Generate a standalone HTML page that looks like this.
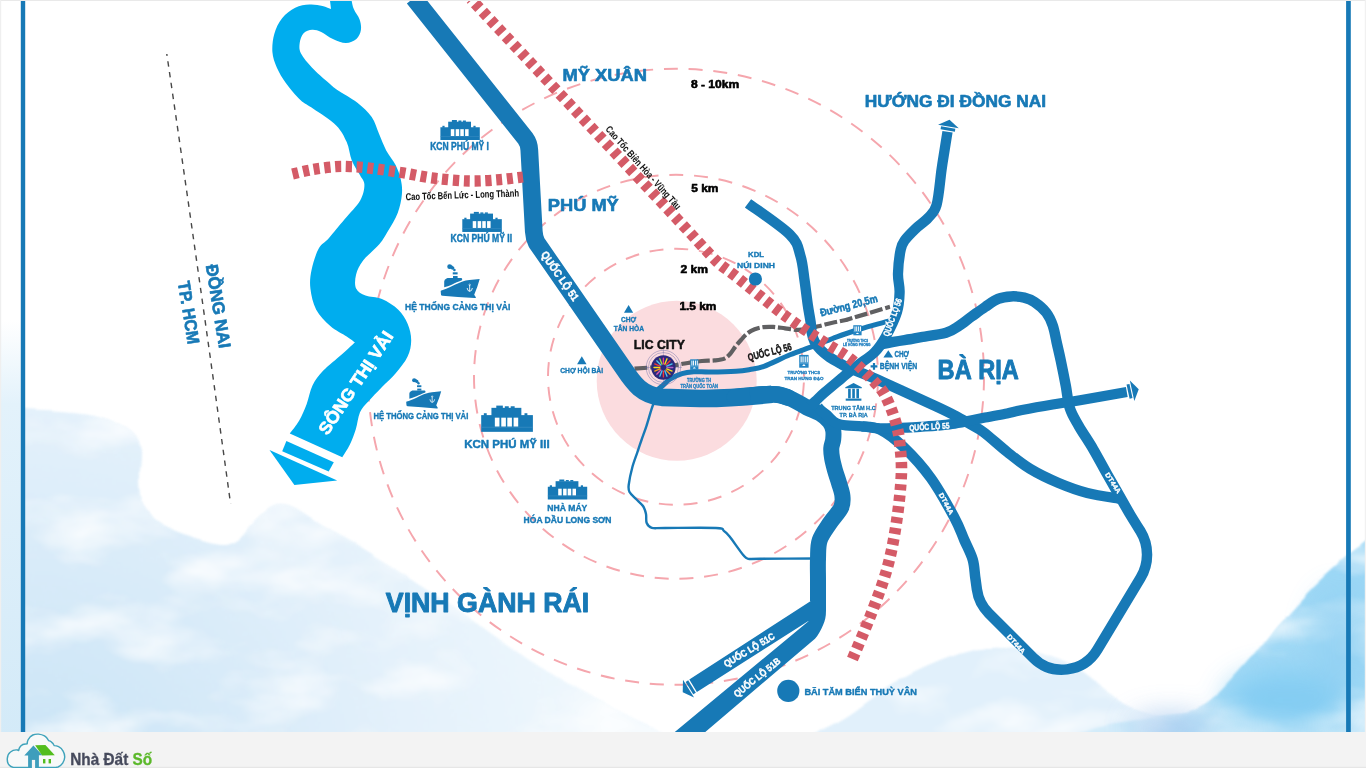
<!DOCTYPE html>
<html lang="vi">
<head>
<meta charset="utf-8">
<title>Bản đồ vị trí LIC City</title>
<style>
html,body{margin:0;padding:0;background:#fff;}
body{width:1366px;height:768px;overflow:hidden;font-family:'Liberation Sans',Arial,sans-serif;}
svg{display:block;will-change:transform;}
</style>
</head>
<body>
<svg width="1366" height="768" viewBox="0 0 1366 768">
<defs>
<filter id="b6" x="-20%" y="-20%" width="140%" height="140%"><feGaussianBlur stdDeviation="6"/></filter>
<filter id="b14" x="-30%" y="-30%" width="160%" height="160%"><feGaussianBlur stdDeviation="14"/></filter>
<filter id="b3" x="-20%" y="-20%" width="140%" height="140%"><feGaussianBlur stdDeviation="2.5"/></filter>
<filter id="wc" x="0" y="0" width="100%" height="100%" filterUnits="objectBoundingBox" color-interpolation-filters="sRGB"><feTurbulence type="fractalNoise" baseFrequency="0.009 0.02" numOctaves="4" seed="7" result="n"/><feDisplacementMap in="SourceGraphic" in2="n" scale="8" xChannelSelector="R" yChannelSelector="G" result="d"/><feGaussianBlur in="d" stdDeviation="1.2" result="db"/><feColorMatrix in="n" type="matrix" values="0 0 0 0 1  0 0 0 0 1  0 0 0 0 1  0 0 2.0 0 -0.9" result="w"/><feGaussianBlur in="w" stdDeviation="1.5" result="wb"/><feComposite in="wb" in2="db" operator="in" result="wm"/><feMerge><feMergeNode in="db"/><feMergeNode in="wm"/></feMerge></filter>
<linearGradient id="fadeL" x1="0" y1="0" x2="0" y2="1"><stop offset="0" stop-color="#fff" stop-opacity="0"/><stop offset="1" stop-color="#fff" stop-opacity="1"/></linearGradient>
<radialGradient id="gl" gradientUnits="userSpaceOnUse" cx="30" cy="790" r="560"><stop offset="0" stop-color="#c9e4f6"/><stop offset="0.4" stop-color="#d8ebf9"/><stop offset="0.68" stop-color="#e4f1fb"/><stop offset="1" stop-color="#eef7fd"/></radialGradient>
<linearGradient id="gr" gradientUnits="userSpaceOnUse" x1="1080" y1="740" x2="1366" y2="560"><stop offset="0" stop-color="#cde9fa"/><stop offset="0.4" stop-color="#a6dbf6"/><stop offset="1" stop-color="#9ad6f5"/></linearGradient>
<linearGradient id="gstrip" gradientUnits="userSpaceOnUse" x1="0" y1="320" x2="0" y2="740"><stop offset="0" stop-color="#e3f2fb" stop-opacity="0"/><stop offset="0.2" stop-color="#e3f2fb" stop-opacity="1"/><stop offset="1" stop-color="#d3eaf8" stop-opacity="1"/></linearGradient>
<clipPath id="mapclip"><rect x="0" y="0" width="1366" height="732"/></clipPath>
</defs>
<rect x="0" y="0" width="1366" height="768" fill="#ffffff"/>
<g clip-path="url(#mapclip)">
<g filter="url(#wc)">
<path d="M-30.0,404.0 C-25.0,404.3 -9.3,405.3 0.0,406.0 C9.3,406.7 16.0,407.3 26.0,408.0 C36.0,408.7 48.5,409.0 60.0,410.0 C71.5,411.0 85.0,411.7 95.0,414.0 C105.0,416.3 113.2,420.3 120.0,424.0 C126.8,427.7 132.5,431.3 136.0,436.0 C139.5,440.7 140.3,445.5 141.0,452.0 C141.7,458.5 139.8,467.0 140.0,475.0 C140.2,483.0 140.3,493.0 142.0,500.0 C143.7,507.0 146.2,512.3 150.0,517.0 C153.8,521.7 157.5,524.3 165.0,528.0 C172.5,531.7 185.5,536.2 195.0,539.0 C204.5,541.8 214.8,544.8 222.0,545.0 C229.2,545.2 233.3,543.0 238.0,540.0 C242.7,537.0 246.0,531.2 250.0,527.0 C254.0,522.8 257.7,518.7 262.0,515.0 C266.3,511.3 270.5,506.3 276.0,505.0 C281.5,503.7 286.5,503.3 295.0,507.0 C303.5,510.7 314.7,519.5 327.0,527.0 C339.3,534.5 353.2,542.2 369.0,552.0 C384.8,561.8 404.1,573.9 421.7,585.6 C439.3,597.4 456.8,610.2 474.4,622.5 C491.9,634.8 509.4,648.0 527.0,659.4 C544.6,670.8 562.4,681.3 580.0,691.0 C597.6,700.7 619.4,710.8 632.6,717.4 C645.8,724.0 647.8,723.4 659.0,730.5 C670.2,737.6 693.2,755.1 700.0,760.0 L700,780 L-30,780 Z" fill="url(#gl)"/>
</g>
<rect x="0" y="320" width="21" height="420" fill="url(#gstrip)"/>
<g filter="url(#wc)">
<path d="M790.0,752.0 C794.6,748.7 807.9,738.2 817.7,732.0 C827.5,725.8 836.2,723.0 848.7,715.0 C861.2,707.0 878.2,692.8 893.0,684.0 C907.8,675.2 922.7,667.9 937.5,662.0 C952.3,656.1 967.0,650.5 981.8,648.7 C996.5,646.9 1011.2,648.0 1026.0,651.0 C1040.8,654.0 1055.8,658.6 1070.6,666.4 C1085.4,674.1 1100.3,689.4 1115.0,697.5 C1129.7,705.6 1144.2,713.6 1159.0,715.0 C1173.8,716.4 1188.8,714.8 1203.6,706.0 C1218.4,697.2 1233.3,678.2 1248.0,662.0 C1262.7,645.8 1277.2,625.0 1292.0,608.7 C1306.8,592.4 1318.7,579.6 1336.7,564.0 C1354.7,548.4 1389.5,523.2 1400.0,515.0 L1400,780 L790,780 Z" fill="#e1f0fb"/>
<path d="M1030.0,760.0 C1040.0,754.7 1068.5,735.3 1090.0,728.0 C1111.5,720.7 1140.1,719.7 1159.0,716.0 C1177.9,712.3 1188.8,715.0 1203.6,706.0 C1218.4,697.0 1233.3,678.2 1248.0,662.0 C1262.7,645.8 1277.2,625.0 1292.0,608.7 C1306.8,592.4 1318.7,579.6 1336.7,564.0 C1354.7,548.4 1389.5,523.2 1400.0,515.0 L1400,780 L1030,780 Z" fill="url(#gr)"/>
</g>
<g filter="url(#b14)" opacity="0.85">
<ellipse cx="1285" cy="700" rx="60" ry="30" fill="#7fcbf2"/>
<ellipse cx="1340" cy="640" rx="28" ry="50" fill="#93d1f3"/><ellipse cx="1170" cy="728" rx="40" ry="14" fill="#a9c9ee"/>
</g>
</g>
<circle cx="676.7" cy="380.8" r="80" fill="#fbdcdf"/>
<circle cx="676.0" cy="376.8" r="128" fill="none" stroke="#f5a6ad" stroke-width="1.95" stroke-dasharray="14 10.81" stroke-dashoffset="19.1"/>
<circle cx="676.0" cy="376.8" r="202" fill="none" stroke="#f5a6ad" stroke-width="1.95" stroke-dasharray="14 10.81" stroke-dashoffset="22.8"/>
<circle cx="676.0" cy="376.8" r="308" fill="none" stroke="#f5a6ad" stroke-width="1.95" stroke-dasharray="14 10.81" stroke-dashoffset="0.3"/>
<path d="M329.7,-2 L331,9.1 C329.6,8.6 326.1,6.7 322.5,5.9 C318.9,5.2 314.1,4.3 309.5,4.6 C304.9,4.9 299.8,5.5 295.2,7.8 C290.6,10.1 285.6,13.8 282.1,18.2 C278.6,22.5 275.9,28.3 274.3,33.9 C272.7,39.5 272.0,46.4 272.4,52.0 C272.8,57.6 274.6,62.5 276.9,67.7 C279.2,72.9 282.1,77.9 286.0,83.3 C289.9,88.7 295.8,95.8 300.4,100.0 C304.9,104.2 307.3,104.5 313.3,108.8 C319.3,113.0 330.7,119.8 336.2,125.4 C341.8,131.0 344.1,136.2 346.7,142.1 C349.3,148.0 349.6,155.2 351.9,160.8 C354.1,166.4 358.1,171.4 360.2,175.4 C362.3,179.4 364.4,180.6 364.4,184.8 C364.4,189.0 363.5,194.7 360.2,200.4 C356.9,206.1 349.8,212.9 344.6,219.2 C339.4,225.4 333.3,233.0 329.0,237.9 C324.7,242.8 321.5,243.4 318.6,248.8 C315.7,254.1 313.0,263.2 311.6,269.8 C310.2,276.4 309.6,282.0 310.4,288.6 C311.2,295.2 312.9,303.4 316.2,309.7 C319.6,315.9 325.2,321.6 330.3,326.1 C335.4,330.6 342.6,333.9 346.7,336.6 C350.8,339.3 353.5,341.5 354.9,342.5 C352.8,344.4 347.3,349.5 342.0,354.2 C336.7,358.9 328.2,365.4 323.3,370.6 C318.4,375.8 315.4,379.6 312.6,385.2 C309.8,390.8 308.9,398.0 306.7,403.9 C304.4,409.8 301.9,415.9 299.1,420.8 C296.3,425.7 291.4,431.4 289.8,433.5 L342.3,457.2 C343.6,455.1 347.6,449.1 349.9,444.5 C352.1,439.9 354.1,434.7 355.8,429.3 C357.5,423.9 357.9,417.0 360.0,412.3 C362.1,407.6 364.8,405.5 368.5,401.3 C372.2,397.1 377.4,391.7 382.0,387.0 C386.6,382.3 391.6,378.1 395.9,373.0 C400.2,367.9 405.1,362.1 407.6,356.6 C410.2,351.1 411.2,345.7 411.2,340.2 C411.2,334.7 409.8,328.8 407.6,323.8 C405.5,318.7 402.6,313.8 398.3,309.7 C394.0,305.6 387.4,301.5 381.9,299.1 C376.4,296.8 369.8,297.4 365.5,295.6 C361.2,293.9 357.7,292.1 356.1,288.6 C354.5,285.1 354.9,279.2 356.1,274.5 C357.3,269.8 359.2,265.6 363.1,260.5 C367.0,255.4 375.4,248.9 379.5,244.0 C383.6,239.1 385.0,236.2 388.0,231.0 C391.0,225.8 395.4,219.0 397.7,212.9 C400.0,206.8 401.4,199.8 401.9,194.2 C402.4,188.6 401.9,184.5 400.8,179.6 C399.8,174.7 398.0,169.9 395.6,165.0 C393.2,160.1 389.0,155.6 386.2,150.4 C383.5,145.2 381.4,139.3 379.0,133.8 C376.6,128.2 375.3,122.3 371.7,117.1 C368.1,111.9 362.8,107.0 357.1,102.5 C351.4,98.0 342.2,93.4 337.3,90.0 C332.4,86.6 331.9,85.7 327.7,82.0 C323.5,78.3 316.6,72.5 312.1,67.7 C307.7,62.9 303.1,57.5 301.0,53.4 C298.9,49.3 299.3,46.4 299.7,43.0 C300.1,39.6 301.5,35.4 303.6,33.2 C305.7,31.0 309.2,29.9 312.1,29.7 C315.0,29.5 317.7,30.3 321.2,31.9 C324.7,33.4 328.8,37.1 332.9,39.0 C337.0,40.9 342.0,43.0 345.9,43.0 C349.8,43.0 353.9,41.2 356.4,39.0 C358.9,36.8 360.4,33.2 360.9,30.0 C361.4,26.8 360.8,23.0 359.6,19.5 C358.4,16.0 355.2,12.7 353.8,9.1 C352.3,5.5 351.5,-0.2 351.1,-2.0 Z" fill="#00adee"/>
<polygon points="286.4,441.1 333.8,462.3 328.7,471.6 282.2,451.3" fill="#00adee"/>
<polygon points="269.5,449.9 337.2,480.4 294.4,485.1" fill="#00adee"/>
<path d="M656.5,402.0 C655.9,402.5 654.7,401.0 653.0,405.0 C651.3,409.0 648.4,420.0 646.5,425.8 C644.6,431.6 643.0,435.6 641.5,440.0 C640.0,444.4 639.0,447.4 637.5,451.9 C636.0,456.4 633.9,461.5 632.4,467.0 C630.9,472.5 629.2,480.8 628.7,485.0 C628.2,489.2 628.3,489.7 629.5,492.0 C630.7,494.3 633.8,496.7 636.0,499.0 C638.2,501.3 641.3,503.5 643.0,506.0 C644.7,508.5 645.4,511.2 646.0,514.0 C646.6,516.8 645.7,520.7 646.7,523.0 C647.7,525.3 648.7,527.0 651.8,527.8 C654.8,528.6 654.3,528.0 665.0,528.0 C675.7,528.0 706.2,527.5 716.0,528.0 C725.8,528.5 721.7,529.6 724.0,531.0 C726.3,532.4 726.4,532.5 729.6,536.5 C732.8,540.5 740.1,551.3 743.2,555.0 C746.3,558.7 745.5,558.2 748.3,558.8 C751.1,559.4 748.9,558.8 760.0,558.8 C771.1,558.8 805.8,558.5 815.0,558.5" fill="none" stroke="#1779b6" stroke-width="2.4" stroke-linejoin="round"/>
<path d="M655.0,392.0 C656.3,390.9 660.2,387.7 662.8,385.5 C665.3,383.3 667.1,381.0 670.3,379.0 C673.5,377.0 678.1,374.8 682.0,373.6 C685.9,372.4 689.1,372.1 693.8,371.8 C698.4,371.5 703.0,372.1 710.0,372.0 C717.0,371.9 729.3,371.6 736.0,371.2 C742.7,370.8 745.3,370.3 750.0,369.5 C754.7,368.7 757.3,368.8 764.0,366.3 C770.7,363.9 781.8,358.1 790.0,354.8 C798.2,351.5 805.6,349.2 813.4,346.2 C821.2,343.3 829.1,339.8 836.9,336.9 C844.7,334.0 852.8,331.4 860.3,329.0 C867.8,326.6 877.2,324.2 882.2,322.8 C887.2,321.4 888.7,321.1 890.0,320.8" fill="none" stroke="#1779b6" stroke-width="5" stroke-linecap="round"/>
<path d="M634.5,368.7 C639.2,368.3 656.1,367.1 663.0,366.5 C669.9,365.9 671.5,365.6 676.0,365.0 C680.5,364.4 685.7,363.3 690.0,362.6 C694.3,361.9 697.9,361.4 702.0,361.0 C706.1,360.6 710.9,360.8 714.6,360.4 C718.3,360.0 721.8,359.7 724.4,358.6 C727.0,357.5 728.5,355.6 730.3,353.7 C732.1,351.8 733.4,349.2 735.2,346.9 C737.0,344.6 739.0,342.2 741.0,340.0 C743.0,337.8 744.6,335.5 746.9,333.7 C749.2,331.9 751.9,330.4 754.7,329.3 C757.5,328.2 760.4,327.5 763.5,327.1 C766.6,326.7 769.6,326.7 773.2,326.9 C776.8,327.1 780.9,327.8 785.0,328.3 C789.1,328.8 793.9,329.8 797.7,329.8 C801.5,329.9 804.5,329.2 808.0,328.6 C811.5,328.0 814.3,327.2 818.4,326.2 C822.5,325.3 827.9,323.7 832.5,322.7 C837.1,321.7 842.5,320.8 845.8,320.0 C849.1,319.2 845.1,320.2 852.5,318.0 C859.9,315.8 883.8,308.7 890.0,306.8" fill="none" stroke="#606062" stroke-width="4.2" stroke-dasharray="12.9 2.8"/>
<path d="M413.8,-2 L525.3,138.3 Q529,143.3 529.3,150 L533.8,231.5 Q534.1,237.5 536.6,242.6 L624,369 C634,384 642,395 662,397.3 L700,398.5 C722,398.8 745,397 772,394.2" fill="none" stroke="#1779b6" stroke-width="17.7" stroke-linejoin="round"/>
<path d="M735.0,397.4 C737.5,397.2 745.0,396.5 750.0,396.0 C755.0,395.5 760.3,394.8 765.0,394.6 C769.7,394.4 774.2,394.1 778.0,394.6 C781.8,395.1 786.3,397.0 788.0,397.5" fill="none" stroke="#1779b6" stroke-width="16.9" stroke-linecap="round" stroke-linejoin="round" />
<path d="M750.0,395.6 C751.7,395.4 755.7,394.7 760.0,394.5 C764.3,394.3 770.4,393.5 775.6,394.2 C780.8,394.9 786.0,396.7 791.2,398.9 C796.5,401.1 802.1,405.1 806.9,407.5 C811.7,409.9 816.4,411.2 820.2,413.6 C824.0,416.0 827.3,418.8 829.5,421.6 C831.7,424.4 832.6,427.2 833.2,430.2 C833.8,433.2 833.5,436.5 833.2,439.5 C832.9,442.5 831.5,445.0 831.3,448.1 C831.1,451.2 831.5,454.7 832.1,458.3 C832.7,461.9 833.8,465.9 834.9,470.0 C836.0,474.1 837.8,478.7 839.0,483.0 C840.2,487.3 842.0,491.7 842.4,495.8 C842.8,499.9 843.2,503.0 841.2,507.5 C839.2,512.0 833.8,517.2 830.2,522.7 C826.6,528.2 821.7,534.2 819.7,540.3 C817.7,546.3 818.3,552.4 818.0,559.0 C817.7,565.6 818.0,573.0 818.0,580.0 C818.0,587.0 818.0,597.5 818.0,601.0" fill="none" stroke="#1779b6" stroke-width="16.0" stroke-linecap="butt" stroke-linejoin="round" />
<path d="M810.2,596 L826,596 L826,610.6 C826,617 825,621 823.2,624.7 C821,630 818,635.5 815,638.7 L686.5,748 L655.5,748 L808.2,621.4 Q809.2,620.4 808,621.2 L696.9,691.9 L689.3,679.6 L810.4,601.2 Z" fill="#1779b6"/>
<path d="M748.0,203.3 C755.0,208.5 781.3,226.0 790.0,234.7 C798.7,243.4 798.0,248.1 800.4,255.7 C802.8,263.2 803.3,271.8 804.5,280.0 C805.7,288.2 806.8,298.0 807.8,305.0 C808.8,312.0 810.0,317.5 810.6,322.0 C811.2,326.5 811.0,328.8 811.6,332.0 C812.2,335.2 813.0,338.6 814.5,341.5 C816.0,344.4 817.9,347.1 820.4,349.7 C822.9,352.3 826.3,355.0 829.4,357.1 C832.5,359.2 835.9,361.0 838.8,362.6 C841.6,364.2 841.7,364.7 846.6,366.9 C851.5,369.1 861.8,373.0 868.0,375.6 C874.2,378.2 876.2,379.0 883.8,382.4 C891.3,385.8 904.5,391.9 913.4,396.0 C922.3,400.1 930.0,403.5 936.9,406.7 C943.8,409.9 949.0,412.4 954.5,415.3 C960.0,418.2 965.1,421.2 970.0,424.0 C974.9,426.8 977.5,427.6 983.8,432.3 C990.0,437.0 999.5,445.9 1007.2,452.0 C1014.9,458.1 1021.4,463.6 1030.0,468.8 C1038.6,474.0 1049.0,479.0 1058.6,483.0 C1068.1,487.0 1076.9,490.3 1087.3,493.0 C1097.7,495.7 1115.4,498.0 1121.0,499.0" fill="none" stroke="#1779b6" stroke-width="10.4" stroke-linecap="butt" stroke-linejoin="round" />
<path d="M947.5,131.8 C947.0,134.8 945.6,143.6 944.6,150.0 C943.6,156.4 942.8,160.9 941.5,170.0 C940.2,179.1 938.9,196.8 936.6,204.8 C934.4,212.8 931.5,214.0 928.0,218.0 C924.5,222.0 919.4,225.0 915.6,228.7 C911.8,232.4 907.5,236.5 905.0,240.0 C902.5,243.5 901.9,244.1 900.7,249.7 C899.5,255.3 898.2,266.6 898.0,273.7 C897.8,280.8 899.8,285.6 899.6,292.0 C899.4,298.4 899.3,304.5 897.0,312.0 C894.7,319.5 889.4,330.1 885.6,336.9 C881.8,343.6 878.9,347.9 874.4,352.5 C869.9,357.1 863.1,361.1 858.8,364.5 C854.4,367.9 851.2,370.3 848.3,372.6 C845.4,374.9 845.5,374.9 841.6,378.2 C837.7,381.5 829.4,388.4 825.0,392.2 C820.6,396.0 818.0,398.7 815.5,401.0 C813.0,403.3 810.9,405.2 810.0,406.0" fill="none" stroke="#1779b6" stroke-width="10.3" stroke-linecap="butt" stroke-linejoin="round" />
<path d="M880.0,344.5 C882.5,344.0 890.0,342.5 895.0,341.6 C900.0,340.7 905.8,339.9 910.0,339.2 C914.2,338.5 914.0,338.4 920.0,337.3 C926.0,336.2 939.5,334.6 946.0,332.7 C952.5,330.8 954.7,328.6 959.0,325.8 C963.3,323.1 967.6,319.3 972.0,316.2 C976.4,313.1 980.8,309.9 985.1,307.0 C989.5,304.1 993.8,300.7 998.1,298.9 C1002.4,297.1 1006.8,296.6 1011.1,296.4 C1015.5,296.2 1020.3,296.7 1024.2,297.6 C1028.1,298.6 1030.9,299.6 1034.6,302.1 C1038.3,304.6 1043.3,308.7 1046.3,312.6 C1049.3,316.5 1051.1,320.6 1052.8,325.6 C1054.5,330.6 1055.4,336.6 1056.7,342.5 C1058.0,348.4 1059.3,353.5 1060.8,360.7 C1062.3,367.9 1064.3,377.8 1065.8,385.8 C1067.3,393.8 1067.8,402.0 1070.0,408.7 C1072.2,415.4 1074.9,419.1 1078.7,425.8 C1082.5,432.5 1088.2,440.6 1093.0,448.8 C1097.8,456.9 1103.0,466.9 1107.3,474.5 C1111.6,482.1 1114.9,487.9 1118.8,494.6 C1122.6,501.3 1126.6,508.6 1130.2,514.6 C1133.8,520.6 1138.6,528.2 1140.3,530.9 C1149.2,545.4 1149.3,563.5 1140.5,578 L1097.3,649.8 C1083.5,672.6 1052,676.5 1033.2,657.7 L988.7,613.2 Q978.8,603.3 976.9,589.4 C976.6,587.3 975.9,582.0 975.2,577.0 C974.5,572.0 974.5,565.7 972.7,559.5 C970.9,553.3 967.4,547.0 964.3,540.0 C961.2,533.0 959.8,527.5 954.2,517.2 C948.6,506.9 939.3,489.7 930.8,478.0 C922.3,466.3 911.9,455.0 903.4,446.9 C894.9,438.8 886.9,432.9 880.0,429.5 C873.1,426.1 865.0,426.9 862.0,426.4" fill="none" stroke="#1779b6" stroke-width="10.5" stroke-linejoin="round"/>
<path d="M818.0,407.0 C818.8,407.9 820.7,410.2 823.0,412.5 C825.3,414.8 829.0,418.4 832.0,420.5 C835.0,422.6 836.2,423.8 841.2,424.8 C846.2,425.8 855.5,425.8 862.0,426.4 C868.5,427.0 874.2,428.1 880.0,428.4 C885.8,428.6 890.3,428.2 897.0,427.9 C903.7,427.6 913.4,427.2 920.0,426.8 C926.6,426.4 931.6,426.2 936.9,425.7 C942.2,425.2 946.8,424.8 952.0,424.0 C957.2,423.2 962.5,422.1 968.0,421.0 C973.5,419.9 978.5,418.8 985.0,417.5 C991.5,416.2 1000.8,414.6 1007.0,413.4 C1013.2,412.1 1014.4,411.5 1022.0,410.0 C1029.6,408.5 1043.0,406.1 1052.7,404.5 C1062.4,402.9 1067.7,402.3 1080.0,400.2 C1092.3,398.1 1119.0,393.3 1126.8,391.9" fill="none" stroke="#1779b6" stroke-width="10.2" stroke-linecap="butt" stroke-linejoin="round" />
<g transform="translate(947.5,131.8) rotate(-80.5)" fill="#1779b6"><rect x="1.3" y="-7.25" width="3" height="14.50"/><polygon points="5.4,-10.5 12.2,0 5.4,10.5"/></g>
<g transform="translate(1126.8,391.9) rotate(-12.2)" fill="#1779b6"><rect x="1.3" y="-7.25" width="3" height="14.50"/><polygon points="5.4,-10.5 12.2,0 5.4,10.5"/></g>
<g transform="translate(693.1,685.8) rotate(148.2)" fill="#1779b6"><rect x="1.3" y="-7.25" width="3" height="14.50"/><polygon points="5.4,-10.5 12.2,0 5.4,10.5"/></g>
<path d="M470.9,-1 L690,232.8  C694.5,237.6 709.3,254.2 716.7,261.3 C724.1,268.4 724.9,267.6 734.6,275.4 C744.4,283.2 766.0,300.9 775.2,308.2 C784.4,315.5 785.5,315.9 790.0,319.2 C794.5,322.5 798.4,325.3 802.0,327.8 C805.6,330.3 808.2,331.9 811.4,334.0 C814.6,336.1 818.0,338.3 821.2,340.3 C824.4,342.3 827.3,344.2 830.5,346.2 C833.7,348.1 837.1,350.0 840.3,352.0 C843.5,354.0 846.8,356.1 849.7,358.3 C852.6,360.5 855.2,362.8 857.9,365.3 C860.6,367.8 862.9,370.2 865.7,373.1" fill="none" stroke="#d45b67" stroke-width="11.3" stroke-dasharray="6.35 4.9" stroke-dashoffset="5.11"/>
<path d="M865.7,373.1 C868.6,376.0 872.0,379.2 875.0,382.5 C878.0,385.8 881.0,388.4 883.8,393.0 C886.5,397.6 889.4,404.3 891.6,410.0 C893.8,415.7 895.6,421.4 897.0,427.0 C898.4,432.6 899.1,435.9 899.8,443.7 C900.5,451.5 901.9,460.9 901.4,473.8 C900.9,486.6 899.0,505.0 896.7,520.6 C894.4,536.2 891.7,551.9 887.4,567.5 C883.1,583.1 876.9,599.0 871.0,614.4 C865.1,629.8 855.2,652.4 852.0,660.0" fill="none" stroke="#d45b67" stroke-width="11.6" stroke-dasharray="6.3 4.7"/>
<path d="M292.5,174.0 C295.9,173.2 306.1,170.7 313.0,169.5 C319.9,168.3 327.8,167.3 334.0,166.8 C340.2,166.3 344.4,166.4 350.0,166.6 C355.6,166.8 359.0,166.8 367.5,167.8 C376.0,168.8 389.7,170.8 400.8,172.5 C411.9,174.2 422.5,176.8 434.0,178.2 C445.5,179.6 459.0,180.8 470.0,181.0 C481.0,181.2 491.2,180.3 500.0,179.6 C508.8,178.9 519.2,177.4 523.0,177.0" fill="none" stroke="#d45b67" stroke-width="11.3" stroke-dasharray="6.1 4.7"/>
<path d="M166.8,54 Q197.3,262 230.6,504" fill="none" stroke="#474747" stroke-width="1.4" stroke-dasharray="5.5 5.4" stroke-dashoffset="3.5"/>
<rect x="20.8" y="0" width="4.4" height="732" fill="#1779b6"/>
<rect x="1346.1" y="0" width="4.7" height="732" fill="#1779b6"/>
<g transform="translate(440.4,120.0) scale(1.000)" fill="#1779b6"><rect x="0" y="7.25" width="39.4" height="12.75"/><rect x="7.8" y="1.7" width="22.8" height="8"/><rect x="11.5" y="0" width="5" height="2"/><rect x="18" y="0.5" width="3" height="1.5"/><rect x="22.5" y="0.5" width="3" height="1.5"/><rect x="2" y="5.8" width="2.2" height="2"/><rect x="33" y="5.8" width="2.2" height="2"/><rect x="10.4" y="9.2" width="3.5" height="6.8" fill="#fff"/><rect x="15.3" y="9.2" width="3.5" height="6.8" fill="#fff"/><rect x="19.9" y="9.2" width="3.5" height="6.8" fill="#fff"/><rect x="24.7" y="9.2" width="3.5" height="6.8" fill="#fff"/><rect x="0" y="16.2" width="39.4" height="0.5" fill="#3d8fc4"/></g>
<g transform="translate(462.3,211.9) scale(1.003)" fill="#1779b6"><rect x="0" y="7.25" width="39.4" height="12.75"/><rect x="7.8" y="1.7" width="22.8" height="8"/><rect x="11.5" y="0" width="5" height="2"/><rect x="18" y="0.5" width="3" height="1.5"/><rect x="22.5" y="0.5" width="3" height="1.5"/><rect x="2" y="5.8" width="2.2" height="2"/><rect x="33" y="5.8" width="2.2" height="2"/><rect x="10.4" y="9.2" width="3.5" height="6.8" fill="#fff"/><rect x="15.3" y="9.2" width="3.5" height="6.8" fill="#fff"/><rect x="19.9" y="9.2" width="3.5" height="6.8" fill="#fff"/><rect x="24.7" y="9.2" width="3.5" height="6.8" fill="#fff"/><rect x="0" y="16.2" width="39.4" height="0.5" fill="#3d8fc4"/></g>
<g transform="translate(481.2,405.6) scale(1.312)" fill="#1779b6"><rect x="0" y="7.25" width="39.4" height="12.75"/><rect x="7.8" y="1.7" width="22.8" height="8"/><rect x="11.5" y="0" width="5" height="2"/><rect x="18" y="0.5" width="3" height="1.5"/><rect x="22.5" y="0.5" width="3" height="1.5"/><rect x="2" y="5.8" width="2.2" height="2"/><rect x="33" y="5.8" width="2.2" height="2"/><rect x="10.4" y="9.2" width="3.5" height="6.8" fill="#fff"/><rect x="15.3" y="9.2" width="3.5" height="6.8" fill="#fff"/><rect x="19.9" y="9.2" width="3.5" height="6.8" fill="#fff"/><rect x="24.7" y="9.2" width="3.5" height="6.8" fill="#fff"/><rect x="0" y="16.2" width="39.4" height="0.5" fill="#3d8fc4"/></g>
<g transform="translate(547.8,479.5) scale(1.000)" fill="#1779b6"><rect x="0" y="7.25" width="39.4" height="12.75"/><rect x="7.8" y="1.7" width="22.8" height="8"/><rect x="11.5" y="0" width="5" height="2"/><rect x="18" y="0.5" width="3" height="1.5"/><rect x="22.5" y="0.5" width="3" height="1.5"/><rect x="2" y="5.8" width="2.2" height="2"/><rect x="33" y="5.8" width="2.2" height="2"/><rect x="10.4" y="9.2" width="3.5" height="6.8" fill="#fff"/><rect x="15.3" y="9.2" width="3.5" height="6.8" fill="#fff"/><rect x="19.9" y="9.2" width="3.5" height="6.8" fill="#fff"/><rect x="24.7" y="9.2" width="3.5" height="6.8" fill="#fff"/><rect x="0" y="16.2" width="39.4" height="0.5" fill="#3d8fc4"/></g>
<g transform="translate(435.00,258.00) scale(1.000)" fill="#1779b6"><path d="M6.3,32.4 C9,31.8 13,30 17.2,28.1 C21,26.3 23.5,25 26.9,23.8 C30,22.8 32,22.4 34.4,22.1 L44.7,20.9 L42.4,28.6 L39.2,36.7 L41,39.5 Q40.6,40.2 39.5,40.1 L22.9,38.9 L7.4,37.8 Q6.2,37.6 6,36.7 L5.7,33.2 Q5.7,32.6 6.3,32.4 Z"/><path d="M9.2,29.2 L9.2,23.5 Q9.2,21.6 11.5,20.6 Q12,20 12.6,20 L26.3,20 Q27.3,20.2 27.2,21.4 Q27.2,22.3 26.3,22.6 C23,23.8 20.5,25 17.2,26.5 C14,28 11.5,28.6 9.2,29.2 Z"/><rect x="18" y="18" width="4.6" height="2.2"/><rect x="17.75" y="14.3" width="4.85" height="2.1"/><circle cx="14.6" cy="8.7" r="2.35"/><circle cx="17.6" cy="10" r="1.8"/><circle cx="19.4" cy="12" r="1.3"/><circle cx="16.2" cy="9" r="1.8"/><path d="M34.65,27.4 V33 M32.2,30.4 Q32.6,33.3 34.65,33.3 Q36.9,33.3 37.3,30.4" stroke="#fff" stroke-width="0.85" fill="none" stroke-linecap="round"/><circle cx="34.65" cy="26.8" r="0.75" fill="none" stroke="#fff" stroke-width="0.6"/></g>
<g transform="translate(401.10,372.45) scale(0.897)" fill="#1779b6"><path d="M6.3,32.4 C9,31.8 13,30 17.2,28.1 C21,26.3 23.5,25 26.9,23.8 C30,22.8 32,22.4 34.4,22.1 L44.7,20.9 L42.4,28.6 L39.2,36.7 L41,39.5 Q40.6,40.2 39.5,40.1 L22.9,38.9 L7.4,37.8 Q6.2,37.6 6,36.7 L5.7,33.2 Q5.7,32.6 6.3,32.4 Z"/><path d="M9.2,29.2 L9.2,23.5 Q9.2,21.6 11.5,20.6 Q12,20 12.6,20 L26.3,20 Q27.3,20.2 27.2,21.4 Q27.2,22.3 26.3,22.6 C23,23.8 20.5,25 17.2,26.5 C14,28 11.5,28.6 9.2,29.2 Z"/><rect x="18" y="18" width="4.6" height="2.2"/><rect x="17.75" y="14.3" width="4.85" height="2.1"/><circle cx="14.6" cy="8.7" r="2.35"/><circle cx="17.6" cy="10" r="1.8"/><circle cx="19.4" cy="12" r="1.3"/><circle cx="16.2" cy="9" r="1.8"/><path d="M34.65,27.4 V33 M32.2,30.4 Q32.6,33.3 34.65,33.3 Q36.9,33.3 37.3,30.4" stroke="#fff" stroke-width="0.85" fill="none" stroke-linecap="round"/><circle cx="34.65" cy="26.8" r="0.75" fill="none" stroke="#fff" stroke-width="0.6"/></g>
<g transform="translate(690.20,359.30)"><rect x="0" y="0" width="8.20" height="10.60" fill="#2385c4"/><rect x="1.22" y="1.30" width="0.95" height="4.85" fill="#fff"/><rect x="2.88" y="1.30" width="0.95" height="4.85" fill="#fff"/><rect x="4.78" y="1.30" width="0.95" height="4.85" fill="#fff"/><rect x="6.58" y="1.30" width="0.95" height="4.85" fill="#fff"/><rect x="0.36" y="6.58" width="7.48" height="0.30" fill="#d9ecf8"/><path d="M2.61,9.17 Q4.10,6.49 5.59,9.17 Z" fill="#fff"/></g>
<g transform="translate(799.20,354.90)"><rect x="0" y="0" width="9.40" height="12.80" fill="#2385c4"/><rect x="1.39" y="1.57" width="1.08" height="5.85" fill="#fff"/><rect x="3.31" y="1.57" width="1.08" height="5.85" fill="#fff"/><rect x="5.47" y="1.57" width="1.08" height="5.85" fill="#fff"/><rect x="7.54" y="1.57" width="1.08" height="5.85" fill="#fff"/><rect x="0.41" y="7.94" width="8.57" height="0.37" fill="#d9ecf8"/><path d="M3.00,11.08 Q4.70,7.84 6.40,11.08 Z" fill="#fff"/></g>
<g transform="translate(853.30,325.20)"><rect x="0" y="0" width="8.30" height="10.10" fill="#2385c4"/><rect x="1.23" y="1.24" width="0.96" height="4.62" fill="#fff"/><rect x="2.92" y="1.24" width="0.96" height="4.62" fill="#fff"/><rect x="4.83" y="1.24" width="0.96" height="4.62" fill="#fff"/><rect x="6.66" y="1.24" width="0.96" height="4.62" fill="#fff"/><rect x="0.36" y="6.27" width="7.57" height="0.29" fill="#d9ecf8"/><path d="M2.65,8.74 Q4.15,6.18 5.65,8.74 Z" fill="#fff"/></g>
<g transform="translate(845.3,383.1) scale(1.006)" fill="#1779b6"><polygon points="8.2,0 16.4,4.2 16.4,5.2 0,5.2 0,4.2"/><rect x="2.8" y="5.6" width="2.6" height="9.5"/><rect x="6.9" y="5.6" width="2.6" height="9.5"/><rect x="11.0" y="5.6" width="2.6" height="9.5"/><rect x="0.4" y="15.4" width="15.6" height="2.1"/></g>
<polygon points="628.6,305.0 633.2,312.7 624.0,312.7" fill="#1779b6"/>
<polygon points="581.8,356.2 586.5,364.2 577.1,364.2" fill="#1779b6"/>
<polygon points="888.3,350.2 893.1,357.5 883.4,357.5" fill="#1779b6"/>
<path d="M874,363 v6.8 M870.6,366.4 h6.8" stroke="#1779b6" stroke-width="2.2" fill="none"/>
<circle cx="755.4" cy="279" r="6.6" fill="#1779b6"/>
<circle cx="788.3" cy="690.9" r="11.1" fill="#1779b6"/>
<g>
<circle cx="663.4" cy="367.5" r="17.2" fill="none" stroke="#5b5fa0" stroke-width="0.4"/>
<circle cx="663.4" cy="367.5" r="15" fill="none" stroke="#5b5fa0" stroke-width="0.4"/>
<path d="M663.4,349.0 v37 M644.9,367.5 h37" stroke="#5b5fa0" stroke-width="0.35" fill="none"/>
<circle cx="663.4" cy="367.5" r="12.2" fill="#2b2a7c"/>
<line x1="663.40" y1="363.90" x2="663.40" y2="358.10" stroke="#e83a8f" stroke-width="1.35" stroke-linecap="round"/>
<line x1="664.78" y1="364.17" x2="667.00" y2="358.82" stroke="#f6e11c" stroke-width="1.35" stroke-linecap="round"/>
<line x1="665.95" y1="364.95" x2="670.05" y2="360.85" stroke="#ef3a3a" stroke-width="1.35" stroke-linecap="round"/>
<line x1="666.73" y1="366.12" x2="672.08" y2="363.90" stroke="#49c5ee" stroke-width="1.35" stroke-linecap="round"/>
<line x1="667.00" y1="367.50" x2="672.80" y2="367.50" stroke="#b463c9" stroke-width="1.35" stroke-linecap="round"/>
<line x1="666.73" y1="368.88" x2="672.08" y2="371.10" stroke="#f6e11c" stroke-width="1.35" stroke-linecap="round"/>
<line x1="665.95" y1="370.05" x2="670.05" y2="374.15" stroke="#f59b1c" stroke-width="1.35" stroke-linecap="round"/>
<line x1="664.78" y1="370.83" x2="667.00" y2="376.18" stroke="#49c5ee" stroke-width="1.35" stroke-linecap="round"/>
<line x1="663.40" y1="371.10" x2="663.40" y2="376.90" stroke="#ef3a3a" stroke-width="1.35" stroke-linecap="round"/>
<line x1="662.02" y1="370.83" x2="659.80" y2="376.18" stroke="#49c5ee" stroke-width="1.35" stroke-linecap="round"/>
<line x1="660.85" y1="370.05" x2="656.75" y2="374.15" stroke="#d95bb0" stroke-width="1.35" stroke-linecap="round"/>
<line x1="660.07" y1="368.88" x2="654.72" y2="371.10" stroke="#f59b1c" stroke-width="1.35" stroke-linecap="round"/>
<line x1="659.80" y1="367.50" x2="654.00" y2="367.50" stroke="#f6e11c" stroke-width="1.35" stroke-linecap="round"/>
<line x1="660.07" y1="366.12" x2="654.72" y2="363.90" stroke="#ef3a3a" stroke-width="1.35" stroke-linecap="round"/>
<line x1="660.85" y1="364.95" x2="656.75" y2="360.85" stroke="#49c5ee" stroke-width="1.35" stroke-linecap="round"/>
<line x1="662.02" y1="364.17" x2="659.80" y2="358.82" stroke="#a3d93b" stroke-width="1.35" stroke-linecap="round"/>
</g>
<text transform="translate(562.5,80.6) rotate(0.0)" font-family="'Liberation Sans', Arial, sans-serif" font-size="17.4" font-weight="bold" fill="#1779b6" textLength="84.6" lengthAdjust="spacingAndGlyphs" stroke="#1779b6" stroke-width="0.64" stroke-linejoin="round">MỸ XUÂN</text>
<text transform="translate(547.8,211.3) rotate(0.0)" font-family="'Liberation Sans', Arial, sans-serif" font-size="17.3" font-weight="bold" fill="#1779b6" textLength="71.0" lengthAdjust="spacingAndGlyphs" stroke="#1779b6" stroke-width="0.64" stroke-linejoin="round">PHÚ MỸ</text>
<text transform="translate(864.8,107.4) rotate(0.0)" font-family="'Liberation Sans', Arial, sans-serif" font-size="17.4" font-weight="bold" fill="#1779b6" textLength="181.3" lengthAdjust="spacingAndGlyphs" stroke="#1779b6" stroke-width="0.64" stroke-linejoin="round">HƯỚNG ĐI ĐỒNG NAI</text>
<text transform="translate(937.6,379.1) rotate(0.0)" font-family="'Liberation Sans', Arial, sans-serif" font-size="27.0" font-weight="bold" fill="#1779b6" textLength="81.3" lengthAdjust="spacingAndGlyphs" stroke="#1779b6" stroke-width="0.93" stroke-linejoin="round">BÀ RỊA</text>
<text transform="translate(385.8,612.3) rotate(0.0)" font-family="'Liberation Sans', Arial, sans-serif" font-size="27.2" font-weight="bold" fill="#1779b6" textLength="203.5" lengthAdjust="spacingAndGlyphs" stroke="#1779b6" stroke-width="0.94" stroke-linejoin="round">VỊNH GÀNH RÁI</text>
<text transform="translate(430.2,149.6) rotate(0.0)" font-family="'Liberation Sans', Arial, sans-serif" font-size="10.0" font-weight="bold" fill="#1779b6" textLength="58.8" lengthAdjust="spacingAndGlyphs" stroke="#1779b6" stroke-width="0.42" stroke-linejoin="round">KCN PHÚ MỸ I</text>
<text transform="translate(450.5,242.3) rotate(0.0)" font-family="'Liberation Sans', Arial, sans-serif" font-size="10.0" font-weight="bold" fill="#1779b6" textLength="61.6" lengthAdjust="spacingAndGlyphs" stroke="#1779b6" stroke-width="0.42" stroke-linejoin="round">KCN PHÚ MỸ II</text>
<text transform="translate(405.1,310.1) rotate(0.0)" font-family="'Liberation Sans', Arial, sans-serif" font-size="9.0" font-weight="bold" fill="#1779b6" textLength="105.3" lengthAdjust="spacingAndGlyphs" stroke="#1779b6" stroke-width="0.39" stroke-linejoin="round">HỆ THỐNG CẢNG THỊ VẢI</text>
<text transform="translate(373.5,419.2) rotate(0.0)" font-family="'Liberation Sans', Arial, sans-serif" font-size="8.4" font-weight="bold" fill="#1779b6" textLength="94.8" lengthAdjust="spacingAndGlyphs" stroke="#1779b6" stroke-width="0.37" stroke-linejoin="round">HỆ THỐNG CẢNG THỊ VẢI</text>
<text transform="translate(464.2,448.2) rotate(0.0)" font-family="'Liberation Sans', Arial, sans-serif" font-size="11.6" font-weight="bold" fill="#1779b6" textLength="85.4" lengthAdjust="spacingAndGlyphs" stroke="#1779b6" stroke-width="0.47" stroke-linejoin="round">KCN PHÚ MỸ III</text>
<text transform="translate(547.3,510.9) rotate(0.0)" font-family="'Liberation Sans', Arial, sans-serif" font-size="8.3" font-weight="bold" fill="#1779b6" textLength="40.0" lengthAdjust="spacingAndGlyphs" stroke="#1779b6" stroke-width="0.37" stroke-linejoin="round">NHÀ MÁY</text>
<text transform="translate(523.6,522.5) rotate(0.0)" font-family="'Liberation Sans', Arial, sans-serif" font-size="8.3" font-weight="bold" fill="#1779b6" textLength="87.9" lengthAdjust="spacingAndGlyphs" stroke="#1779b6" stroke-width="0.37" stroke-linejoin="round">HÓA DẦU LONG SƠN</text>
<text transform="translate(620.9,321.9) rotate(0.0)" font-family="'Liberation Sans', Arial, sans-serif" font-size="6.8" font-weight="bold" fill="#1779b6" textLength="15.2" lengthAdjust="spacingAndGlyphs" stroke="#1779b6" stroke-width="0.32" stroke-linejoin="round">CHỢ</text>
<text transform="translate(613.7,330.7) rotate(0.0)" font-family="'Liberation Sans', Arial, sans-serif" font-size="6.8" font-weight="bold" fill="#1779b6" textLength="30.4" lengthAdjust="spacingAndGlyphs" stroke="#1779b6" stroke-width="0.32" stroke-linejoin="round">TÂN HÒA</text>
<text transform="translate(560.2,373.0) rotate(0.0)" font-family="'Liberation Sans', Arial, sans-serif" font-size="6.8" font-weight="bold" fill="#1779b6" textLength="42.9" lengthAdjust="spacingAndGlyphs" stroke="#1779b6" stroke-width="0.32" stroke-linejoin="round">CHỢ HỘI BÀI</text>
<text transform="translate(748.1,256.7) rotate(0.0)" font-family="'Liberation Sans', Arial, sans-serif" font-size="7.8" font-weight="bold" fill="#1779b6" textLength="16.0" lengthAdjust="spacingAndGlyphs" stroke="#1779b6" stroke-width="0.36" stroke-linejoin="round">KDL</text>
<text transform="translate(737.0,267.6) rotate(0.0)" font-family="'Liberation Sans', Arial, sans-serif" font-size="7.8" font-weight="bold" fill="#1779b6" textLength="38.0" lengthAdjust="spacingAndGlyphs" stroke="#1779b6" stroke-width="0.36" stroke-linejoin="round">NÚI DINH</text>
<text transform="translate(894.4,357.2) rotate(0.0)" font-family="'Liberation Sans', Arial, sans-serif" font-size="8.4" font-weight="bold" fill="#1779b6" textLength="14.6" lengthAdjust="spacingAndGlyphs" stroke="#1779b6" stroke-width="0.37" stroke-linejoin="round">CHỢ</text>
<text transform="translate(879.8,368.9) rotate(0.0)" font-family="'Liberation Sans', Arial, sans-serif" font-size="8.4" font-weight="bold" fill="#1779b6" textLength="37.5" lengthAdjust="spacingAndGlyphs" stroke="#1779b6" stroke-width="0.37" stroke-linejoin="round">BỆNH VIỆN</text>
<text transform="translate(831.2,409.5) rotate(0.0)" font-family="'Liberation Sans', Arial, sans-serif" font-size="6.1" font-weight="bold" fill="#1779b6" textLength="44.5" lengthAdjust="spacingAndGlyphs" stroke="#1779b6" stroke-width="0.30" stroke-linejoin="round">TRUNG TÂM H.C</text>
<text transform="translate(839.6,417.3) rotate(0.0)" font-family="'Liberation Sans', Arial, sans-serif" font-size="6.1" font-weight="bold" fill="#1779b6" textLength="28.0" lengthAdjust="spacingAndGlyphs" stroke="#1779b6" stroke-width="0.30" stroke-linejoin="round">TP. BÀ RỊA</text>
<text transform="translate(804.4,695.0) rotate(0.0)" font-family="'Liberation Sans', Arial, sans-serif" font-size="9.9" font-weight="bold" fill="#1779b6" textLength="112.6" lengthAdjust="spacingAndGlyphs" stroke="#1779b6" stroke-width="0.42" stroke-linejoin="round">BÃI TẮM BIỂN THUỲ VÂN</text>
<text transform="translate(821.2,316.6) rotate(-14.6)" font-family="'Liberation Sans', Arial, sans-serif" font-size="10.9" font-weight="bold" fill="#1779b6" textLength="59.0" lengthAdjust="spacingAndGlyphs" stroke="#1779b6" stroke-width="0.50" stroke-linejoin="round">Đường 20,5m</text>
<text transform="translate(687.0,381.6) rotate(0.0)" font-family="'Liberation Sans', Arial, sans-serif" font-size="4.7" font-weight="bold" fill="#2482c2" textLength="24.0" lengthAdjust="spacingAndGlyphs" stroke="#2482c2" stroke-width="0.30" stroke-linejoin="round">TRƯỜNG TH</text>
<text transform="translate(680.5,387.5) rotate(0.0)" font-family="'Liberation Sans', Arial, sans-serif" font-size="4.7" font-weight="bold" fill="#2482c2" textLength="37.5" lengthAdjust="spacingAndGlyphs" stroke="#2482c2" stroke-width="0.30" stroke-linejoin="round">TRẦN QUỐC TOẢN</text>
<text transform="translate(787.6,373.6) rotate(0.0)" font-family="'Liberation Sans', Arial, sans-serif" font-size="4.4" font-weight="bold" fill="#2482c2" textLength="32.5" lengthAdjust="spacingAndGlyphs" stroke="#2482c2" stroke-width="0.30" stroke-linejoin="round">TRƯỜNG THCS</text>
<text transform="translate(784.4,379.6) rotate(0.0)" font-family="'Liberation Sans', Arial, sans-serif" font-size="4.4" font-weight="bold" fill="#2482c2" textLength="39.1" lengthAdjust="spacingAndGlyphs" stroke="#2482c2" stroke-width="0.30" stroke-linejoin="round">TRẦN HƯNG ĐẠO</text>
<text transform="translate(847.0,341.6) rotate(0.0)" font-family="'Liberation Sans', Arial, sans-serif" font-size="3.9" font-weight="bold" fill="#2482c2" textLength="21.1" lengthAdjust="spacingAndGlyphs" stroke="#2482c2" stroke-width="0.30" stroke-linejoin="round">TRƯỜNG THCS</text>
<text transform="translate(843.1,345.8) rotate(0.0)" font-family="'Liberation Sans', Arial, sans-serif" font-size="3.9" font-weight="bold" fill="#2482c2" textLength="27.4" lengthAdjust="spacingAndGlyphs" stroke="#2482c2" stroke-width="0.30" stroke-linejoin="round">LÊ HỒNG PHONG</text>
<text transform="translate(633.8,348.7) rotate(0.0)" font-family="'Liberation Sans', Arial, sans-serif" font-size="13.5" font-weight="bold" fill="#111" textLength="51.0" lengthAdjust="spacingAndGlyphs" stroke="#111" stroke-width="0.53" stroke-linejoin="round">LIC CITY</text>
<text transform="translate(690.9,87.8) rotate(0.0)" font-family="'Liberation Sans', Arial, sans-serif" font-size="10.8" font-weight="bold" fill="#000" textLength="48.3" lengthAdjust="spacingAndGlyphs" stroke="#000" stroke-width="0.55" stroke-linejoin="round">8 - 10km</text>
<text transform="translate(691.2,191.7) rotate(0.0)" font-family="'Liberation Sans', Arial, sans-serif" font-size="10.8" font-weight="bold" fill="#000" textLength="27.2" lengthAdjust="spacingAndGlyphs" stroke="#000" stroke-width="0.55" stroke-linejoin="round">5 km</text>
<text transform="translate(680.4,273.3) rotate(0.0)" font-family="'Liberation Sans', Arial, sans-serif" font-size="10.8" font-weight="bold" fill="#000" textLength="27.6" lengthAdjust="spacingAndGlyphs" stroke="#000" stroke-width="0.55" stroke-linejoin="round">2 km</text>
<text transform="translate(679.4,310.3) rotate(0.0)" font-family="'Liberation Sans', Arial, sans-serif" font-size="10.8" font-weight="bold" fill="#000" textLength="37.0" lengthAdjust="spacingAndGlyphs" stroke="#000" stroke-width="0.55" stroke-linejoin="round">1.5 km</text>
<text transform="translate(748.8,361.0) rotate(-14.4)" font-family="'Liberation Sans', Arial, sans-serif" font-size="10.2" font-weight="bold" fill="#111" textLength="44.9" lengthAdjust="spacingAndGlyphs" stroke="#111" stroke-width="0.43" stroke-linejoin="round">QUỐC LỘ 56</text>
<text transform="translate(405.7,200.2) rotate(-1.9)" font-family="'Liberation Sans', Arial, sans-serif" font-size="10.0" font-weight="bold" fill="#111" textLength="113.4" lengthAdjust="spacingAndGlyphs" stroke="#111" stroke-width="0.05" stroke-linejoin="round">Cao Tốc Bến Lức - Long Thành</text>
<text transform="translate(605.0,129.6) rotate(48.4)" font-family="'Liberation Sans', Arial, sans-serif" font-size="10.0" font-weight="bold" fill="#111" textLength="108.0" lengthAdjust="spacingAndGlyphs" stroke="#111" stroke-width="0.05" stroke-linejoin="round">Cao Tốc Biên Hòa - Vũng Tàu</text>
<text transform="translate(540.4,254.6) rotate(55.3)" font-family="'Liberation Sans', Arial, sans-serif" font-size="10.9" font-weight="bold" fill="#fff" textLength="57.6" lengthAdjust="spacingAndGlyphs" stroke="#fff" stroke-width="0.45" stroke-linejoin="round">QUỐC LỘ 51</text>
<text transform="translate(888.7,337.0) rotate(-70.0)" font-family="'Liberation Sans', Arial, sans-serif" font-size="9.0" font-weight="bold" fill="#fff" textLength="39.6" lengthAdjust="spacingAndGlyphs" stroke="#fff" stroke-width="0.39" stroke-linejoin="round">QUỐC LỘ 56</text>
<text transform="translate(909.4,430.9) rotate(-3.5)" font-family="'Liberation Sans', Arial, sans-serif" font-size="8.6" font-weight="bold" fill="#fff" textLength="40.4" lengthAdjust="spacingAndGlyphs" stroke="#fff" stroke-width="0.38" stroke-linejoin="round">QUỐC LỘ 55</text>
<text transform="translate(726.2,667.5) rotate(-30.8)" font-family="'Liberation Sans', Arial, sans-serif" font-size="9.6" font-weight="bold" fill="#fff" textLength="57.4" lengthAdjust="spacingAndGlyphs" stroke="#fff" stroke-width="0.41" stroke-linejoin="round">QUỐC LỘ 51C</text>
<text transform="translate(736.9,697.8) rotate(-38.6)" font-family="'Liberation Sans', Arial, sans-serif" font-size="9.6" font-weight="bold" fill="#fff" textLength="56.9" lengthAdjust="spacingAndGlyphs" stroke="#fff" stroke-width="0.41" stroke-linejoin="round">QUỐC LỘ 51B</text>
<text transform="translate(938.6,494.6) rotate(61.5)" font-family="'Liberation Sans', Arial, sans-serif" font-size="6.8" font-weight="bold" fill="#fff" textLength="23.5" lengthAdjust="spacingAndGlyphs" stroke="#fff" stroke-width="0.32" stroke-linejoin="round">DT44A</text>
<text transform="translate(1104.7,474.4) rotate(56.9)" font-family="'Liberation Sans', Arial, sans-serif" font-size="6.8" font-weight="bold" fill="#fff" textLength="23.5" lengthAdjust="spacingAndGlyphs" stroke="#fff" stroke-width="0.32" stroke-linejoin="round">DT44A</text>
<text transform="translate(1006.6,637.1) rotate(47.4)" font-family="'Liberation Sans', Arial, sans-serif" font-size="6.8" font-weight="bold" fill="#fff" textLength="23.2" lengthAdjust="spacingAndGlyphs" stroke="#fff" stroke-width="0.32" stroke-linejoin="round">DT44A</text>
<text transform="translate(327.5,436.0) rotate(-56.3)" font-family="'Liberation Sans', Arial, sans-serif" font-size="17.4" font-weight="bold" fill="#fff" textLength="120.0" lengthAdjust="spacingAndGlyphs" stroke="#fff" stroke-width="0.64" stroke-linejoin="round">SÔNG THỊ VẢI</text>
<text transform="translate(205.7,265.4) rotate(80.8)" font-family="'Liberation Sans', Arial, sans-serif" font-size="17.2" font-weight="bold" fill="#1779b6" textLength="84.7" lengthAdjust="spacingAndGlyphs" stroke="#1779b6" stroke-width="0.63" stroke-linejoin="round">ĐỒNG NAI</text>
<text transform="translate(177.8,282.3) rotate(80.8)" font-family="'Liberation Sans', Arial, sans-serif" font-size="17.2" font-weight="bold" fill="#1779b6" textLength="63.5" lengthAdjust="spacingAndGlyphs" stroke="#1779b6" stroke-width="0.63" stroke-linejoin="round">TP. HCM</text>
<rect x="0" y="732" width="1366" height="36" fill="#f3f3f3"/>
<rect x="0" y="0" width="1366" height="1" fill="#e9e9e9"/>
<rect x="0" y="0" width="1.2" height="732" fill="#efefef"/>
<rect x="1364.8" y="0" width="1.2" height="732" fill="#f1f1f1"/>
<rect x="0" y="766.8" width="1366" height="1.2" fill="#e6e6e6"/>
<g>
<path d="M13.5,767.4 C9.5,766.5 7,763 7.3,758.5 C7.6,755 8.8,753.2 10.5,752 C12.5,750.3 15.5,749.7 17.6,750 L18.7,750.5 C18.9,748.7 19.5,747.3 20.5,746.2 C22,744.7 24,744 25.8,744.1 L27.2,743.8 C27.2,742.2 27.5,740.9 28.1,739.7 C29.2,737.5 30.8,736 32.8,735 C34.6,734.2 36.6,734 38.65,734.15 C40.8,734.4 42.8,735 44.5,735.9 C46,736.9 47.2,738.2 48,739.7 L48.6,740.6 C49.8,740.8 50.7,741.3 51.5,742.1 C52.5,742.9 53.4,743.9 53.9,745 L54.2,745.6 C55.8,745.6 57.2,746 58.6,746.7 C60.8,747.8 62.3,749.4 63.25,751.4 C64.2,753.2 64.8,755.2 64.7,757.3 C64.6,759.5 63.9,761.4 62.7,763.1 C61.5,764.9 59.9,766.2 58,767 L55.6,767.5 Z" fill="#f7f9f9" stroke="#3fa3bb" stroke-width="1.45" stroke-linejoin="round"/>
<polygon points="33.4,745.6 24.3,755.5 28.1,755.5 28.1,769 38.9,769 38.9,755.3 42.4,755.3" fill="#3e9ebc"/>
<rect x="31.9" y="759.9" width="3.2" height="9" fill="#f5f5f5"/>
<polygon points="35.1,745.3 45.4,745 54.8,755.2 42.2,755.5" fill="#52bd1d"/>
<rect x="43" y="759" width="2.4" height="4.4" fill="#52bd1d"/><rect x="48.6" y="759" width="2.4" height="4.4" fill="#52bd1d"/>
</g>
<text x="70.3" y="765.4" font-family="'Liberation Sans', Arial, sans-serif" font-size="15.8" font-weight="bold" fill="#464a5c" stroke="#464a5c" stroke-width="0.3" textLength="81.8" lengthAdjust="spacingAndGlyphs">Nhà Đất <tspan fill="#5bb82a" stroke="#5bb82a">Số</tspan></text>
</svg>
</body>
</html>
